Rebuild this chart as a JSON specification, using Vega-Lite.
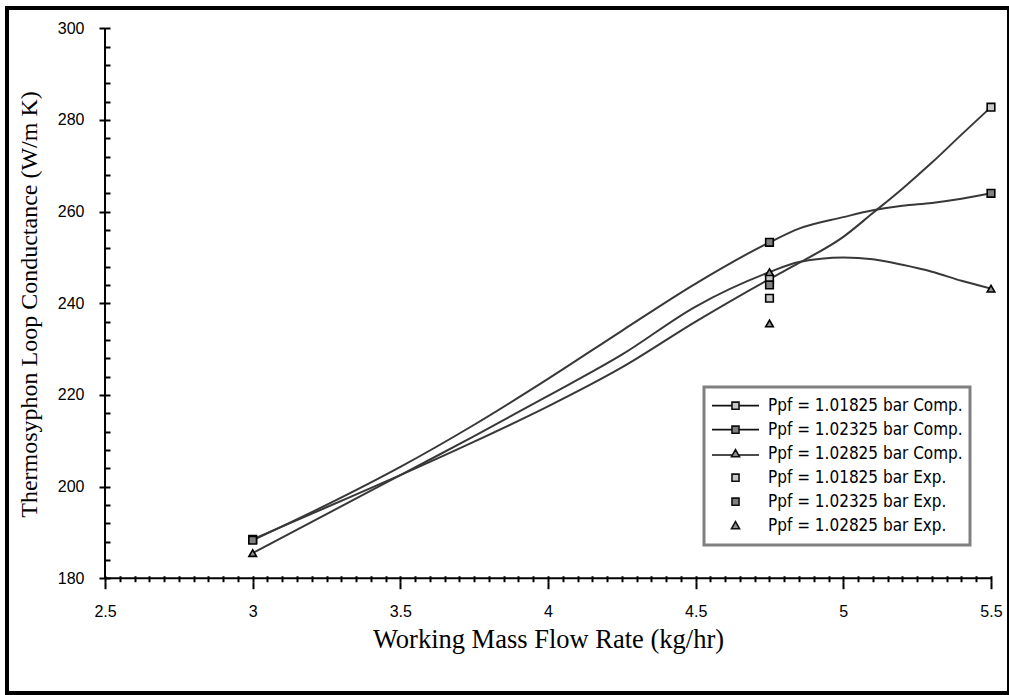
{
  "$schema": "https://vega.github.io/schema/vega-lite/v6.json",
  "width": 1002,
  "height": 685,
  "autosize": {"type": "none"},
  "padding": {"left": 7, "top": 8, "right": 0, "bottom": 2},
  "background": "white",
  "config": {
    "view": {"stroke": "black", "strokeWidth": 4},
    "axis": {"grid": false, "domain": false, "tickColor": "black", "labelColor": "black", "titleColor": "black"},
    "legend": {"strokeWidth": 3}
  },
  "datasets": {
    "axes": [
      {"x": 2.5, "x2": 5.5, "y": 180, "y2": 180},
      {"x": 2.5, "x2": 2.5, "y": 180, "y2": 300}
    ],
    "curves": [
      {"s": "1", "x": 3, "y": 188.5}, {"s": "1", "x": 3.25, "y": 195.5}, {"s": "1", "x": 3.5, "y": 202.5}, {"s": "1", "x": 3.75, "y": 209.8}, {"s": "1", "x": 4, "y": 217.5}, {"s": "1", "x": 4.25, "y": 226}, {"s": "1", "x": 4.5, "y": 236}, {"s": "1", "x": 4.75, "y": 245.3}, {"s": "1", "x": 4.85, "y": 248.8}, {"s": "1", "x": 5, "y": 254.5}, {"s": "1", "x": 5.1, "y": 259.7}, {"s": "1", "x": 5.2, "y": 265}, {"s": "1", "x": 5.3, "y": 270.7}, {"s": "1", "x": 5.4, "y": 276.8}, {"s": "1", "x": 5.5, "y": 282.8},
      {"s": "2", "x": 3, "y": 188.3}, {"s": "2", "x": 3.25, "y": 196}, {"s": "2", "x": 3.5, "y": 204.3}, {"s": "2", "x": 3.75, "y": 213.5}, {"s": "2", "x": 4, "y": 223.5}, {"s": "2", "x": 4.25, "y": 234}, {"s": "2", "x": 4.5, "y": 244.3}, {"s": "2", "x": 4.75, "y": 253.3}, {"s": "2", "x": 4.85, "y": 256.3}, {"s": "2", "x": 5, "y": 258.8}, {"s": "2", "x": 5.1, "y": 260.3}, {"s": "2", "x": 5.2, "y": 261.3}, {"s": "2", "x": 5.3, "y": 261.9}, {"s": "2", "x": 5.4, "y": 262.8}, {"s": "2", "x": 5.5, "y": 264},
      {"s": "3", "x": 3, "y": 185.5}, {"s": "3", "x": 3.25, "y": 194}, {"s": "3", "x": 3.5, "y": 202.5}, {"s": "3", "x": 3.75, "y": 211}, {"s": "3", "x": 4, "y": 219.8}, {"s": "3", "x": 4.25, "y": 228.8}, {"s": "3", "x": 4.5, "y": 239.3}, {"s": "3", "x": 4.75, "y": 246.8}, {"s": "3", "x": 4.85, "y": 249}, {"s": "3", "x": 5, "y": 250}, {"s": "3", "x": 5.1, "y": 249.6}, {"s": "3", "x": 5.2, "y": 248.4}, {"s": "3", "x": 5.3, "y": 246.9}, {"s": "3", "x": 5.4, "y": 244.9}, {"s": "3", "x": 5.5, "y": 243.2}
    ],
    "points": [
      {"label": "Ppf = 1.01825 bar Comp.", "x": 3, "y": 188.5},
      {"label": "Ppf = 1.01825 bar Comp.", "x": 4.75, "y": 245.3},
      {"label": "Ppf = 1.01825 bar Comp.", "x": 5.5, "y": 282.8},
      {"label": "Ppf = 1.02325 bar Comp.", "x": 3, "y": 188.3},
      {"label": "Ppf = 1.02325 bar Comp.", "x": 4.75, "y": 253.3},
      {"label": "Ppf = 1.02325 bar Comp.", "x": 5.5, "y": 264},
      {"label": "Ppf = 1.02825 bar Comp.", "x": 3, "y": 185.5},
      {"label": "Ppf = 1.02825 bar Comp.", "x": 4.75, "y": 246.8},
      {"label": "Ppf = 1.02825 bar Comp.", "x": 5.5, "y": 243.2},
      {"label": "Ppf = 1.01825 bar Exp.", "x": 4.75, "y": 241.1},
      {"label": "Ppf = 1.02325 bar Exp.", "x": 4.75, "y": 244.0},
      {"label": "Ppf = 1.02825 bar Exp.", "x": 4.75, "y": 235.6}
    ],
    "legendrows": [
      {"label": "Ppf = 1.01825 bar Comp."},
      {"label": "Ppf = 1.02325 bar Comp."},
      {"label": "Ppf = 1.02825 bar Comp."},
      {"label": "Ppf = 1.01825 bar Exp."},
      {"label": "Ppf = 1.02325 bar Exp."},
      {"label": "Ppf = 1.02825 bar Exp."}
    ]
  },
  "layer": [
    {
      "data": {"name": "axes"},
      "mark": {"type": "rule", "color": "black", "strokeWidth": 2},
      "encoding": {
        "x": {
          "field": "x", "type": "quantitative",
          "scale": {"domain": [2.1681, 5.561], "nice": false, "zero": false},
          "axis": {
            "orient": "bottom", "offset": -111.3,
            "values": [2.5, 3, 3.5, 4, 4.5, 5, 5.5], "format": "~g",
            "tickSize": 7, "tickWidth": 2, "labelPadding": 15,
            "labelFont": "Liberation Sans", "labelFontSize": 16,
            "title": "Working Mass Flow Rate (kg/hr)",
            "titleFont": "Liberation Serif", "titleFontSize": 26.5, "titleFontWeight": "normal",
            "titleX": 541, "titleY": 58, "titleBaseline": "middle", "titleAlign": "center"
          }
        },
        "x2": {"field": "x2"},
        "y": {
          "field": "y", "type": "quantitative",
          "scale": {"domain": [154.97, 304.43], "nice": false, "zero": false},
          "axis": {
            "orient": "left", "offset": -98,
            "values": [180, 200, 220, 240, 260, 280, 300], "format": "d",
            "tickSize": 6, "tickWidth": 2, "labelPadding": 15,
            "labelFont": "Liberation Sans", "labelFontSize": 16,
            "title": "Thermosyphon Loop Conductance (W/m K)",
            "titleFont": "Liberation Serif", "titleFontSize": 24, "titleFontWeight": "normal",
            "titleX": -76, "titleY": 296, "titleAngle": -90, "titleBaseline": "middle", "titleAlign": "center"
          }
        },
        "y2": {"field": "y2"}
      }
    },
    {
      "data": {"name": "curves"},
      "mark": {"type": "line", "color": "#383838", "strokeWidth": 2, "interpolate": "monotone"},
      "encoding": {
        "x": {
          "field": "x", "type": "quantitative",
          "axis": {
            "orient": "bottom", "offset": -111.3, "labels": false, "title": null,
            "tickSize": -6, "tickWidth": 2,
            "values": [2.5,2.55,2.6,2.65,2.7,2.75,2.8,2.85,2.9,2.95,3,3.05,3.1,3.15,3.2,3.25,3.3,3.35,3.4,3.45,3.5,3.55,3.6,3.65,3.7,3.75,3.8,3.85,3.9,3.95,4,4.05,4.1,4.15,4.2,4.25,4.3,4.35,4.4,4.45,4.5,4.55,4.6,4.65,4.7,4.75,4.8,4.85,4.9,4.95,5,5.05,5.1,5.15,5.2,5.25,5.3,5.35,5.4,5.45,5.5]
          }
        },
        "y": {
          "field": "y", "type": "quantitative",
          "axis": {
            "orient": "left", "offset": -98, "labels": false, "title": null,
            "tickSize": -5, "tickWidth": 2,
            "values": [180,184,188,192,196,200,204,208,212,216,220,224,228,232,236,240,244,248,252,256,260,264,268,272,276,280,284,288,292,296,300]
          }
        },
        "detail": {"field": "s", "type": "nominal"}
      }
    },
    {
      "data": {"name": "points"},
      "mark": {"type": "point", "filled": true, "stroke": "black", "strokeWidth": 1.6, "size": 58, "opacity": 1},
      "encoding": {
        "x": {"field": "x", "type": "quantitative", "axis": null},
        "y": {"field": "y", "type": "quantitative", "axis": null},
        "shape": {
          "field": "label", "type": "nominal", "legend": null,
          "scale": {
            "domain": ["Ppf = 1.01825 bar Comp.", "Ppf = 1.02325 bar Comp.", "Ppf = 1.02825 bar Comp.", "Ppf = 1.01825 bar Exp.", "Ppf = 1.02325 bar Exp.", "Ppf = 1.02825 bar Exp."],
            "range": ["square", "square", "triangle-up", "square", "square", "triangle-up"]
          }
        },
        "fill": {
          "field": "label", "type": "nominal", "legend": null,
          "scale": {
            "domain": ["Ppf = 1.01825 bar Comp.", "Ppf = 1.02325 bar Comp.", "Ppf = 1.02825 bar Comp.", "Ppf = 1.01825 bar Exp.", "Ppf = 1.02325 bar Exp.", "Ppf = 1.02825 bar Exp."],
            "range": ["#c8c8c8", "#808080", "#909090", "#c8c8c8", "#808080", "#909090"]
          }
        }
      }
    },
    {
      "data": {"name": "legendrows"},
      "transform": [{"filter": "false"}],
      "mark": {"type": "point", "filled": true, "strokeWidth": 1.6, "size": 2209, "opacity": 1},
      "encoding": {
        "shape": {
          "field": "label", "type": "nominal",
          "scale": {
            "domain": ["Ppf = 1.01825 bar Comp.", "Ppf = 1.02325 bar Comp.", "Ppf = 1.02825 bar Comp.", "Ppf = 1.01825 bar Exp.", "Ppf = 1.02325 bar Exp.", "Ppf = 1.02825 bar Exp."],
            "range": [
              "M-1,0H-0.15M0.15,0H1M-0.15,-0.15H0.15V0.15H-0.15Z",
              "M-1,0H-0.15M0.15,0H1M-0.15,-0.15H0.15V0.15H-0.15Z",
              "M-1,0.06H-0.12M0.12,0.06H1M0,-0.17L0.17,0.13H-0.17Z",
              "M-0.15,-0.15H0.15V0.15H-0.15Z",
              "M-0.15,-0.15H0.15V0.15H-0.15Z",
              "M0,-0.17L0.17,0.13H-0.17Z"
            ]
          },
          "legend": {
            "title": null, "orient": "none", "legendX": 697, "legendY": 379,
            "padding": 7, "strokeColor": "#808080", "fillColor": "white",
            "labelFont": "Liberation Sans Narrow, DejaVu Sans Condensed, Roboto Condensed, Liberation Sans, sans-serif", "labelFontSize": 17, "labelColor": "black",
            "labelOffset": 8, "labelLimit": 400, "clipHeight": 23.3, "rowPadding": 0,
            "symbolSize": 2209, "symbolStrokeWidth": 1.6
          }
        },
        "fill": {
          "field": "label", "type": "nominal",
          "scale": {
            "domain": ["Ppf = 1.01825 bar Comp.", "Ppf = 1.02325 bar Comp.", "Ppf = 1.02825 bar Comp.", "Ppf = 1.01825 bar Exp.", "Ppf = 1.02325 bar Exp.", "Ppf = 1.02825 bar Exp."],
            "range": ["#c8c8c8", "#808080", "#909090", "#c8c8c8", "#808080", "#909090"]
          },
          "legend": {
            "title": null, "orient": "none", "legendX": 697, "legendY": 379,
            "padding": 7, "strokeColor": "#808080", "fillColor": "white",
            "labelFont": "Liberation Sans Narrow, DejaVu Sans Condensed, Roboto Condensed, Liberation Sans, sans-serif", "labelFontSize": 17, "labelColor": "black",
            "labelOffset": 8, "labelLimit": 400, "clipHeight": 23.3, "rowPadding": 0,
            "symbolSize": 2209, "symbolStrokeWidth": 1.6
          }
        },
        "stroke": {
          "field": "label", "type": "nominal",
          "scale": {
            "domain": ["Ppf = 1.01825 bar Comp.", "Ppf = 1.02325 bar Comp.", "Ppf = 1.02825 bar Comp.", "Ppf = 1.01825 bar Exp.", "Ppf = 1.02325 bar Exp.", "Ppf = 1.02825 bar Exp."],
            "range": ["#111111", "#111111", "#111111", "#111111", "#111111", "#111111"]
          },
          "legend": {
            "title": null, "orient": "none", "legendX": 697, "legendY": 379,
            "padding": 7, "strokeColor": "#808080", "fillColor": "white",
            "labelFont": "Liberation Sans Narrow, DejaVu Sans Condensed, Roboto Condensed, Liberation Sans, sans-serif", "labelFontSize": 17, "labelColor": "black",
            "labelOffset": 8, "labelLimit": 400, "clipHeight": 23.3, "rowPadding": 0,
            "symbolSize": 2209, "symbolStrokeWidth": 1.6
          }
        }
      }
    }
  ],
  "resolve": {
    "scale": {"shape": "independent", "fill": "independent", "stroke": "independent"},
    "axis": {"x": "independent", "y": "independent"}
  }
}
